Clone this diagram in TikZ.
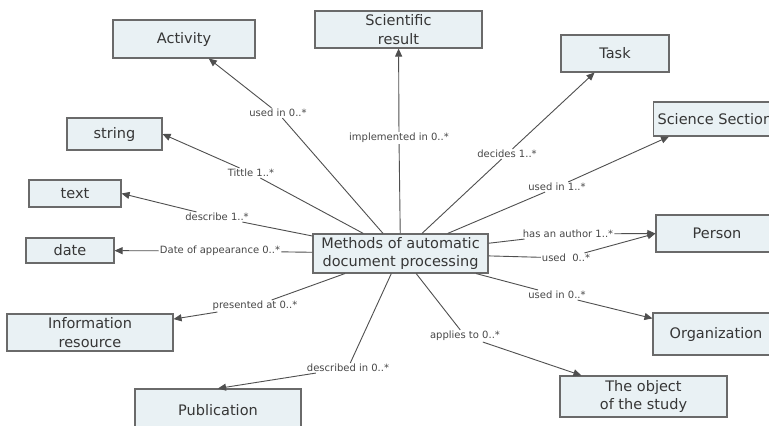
\documentclass[tikz,border=0pt]{standalone}
\usepackage{fontspec}
\setmainfont{DejaVu Sans}
\usetikzlibrary{arrows.meta}
\definecolor{boxfill}{HTML}{E9F1F4}
\definecolor{boxline}{HTML}{6A6A6A}
\definecolor{boxtext}{HTML}{363636}
\definecolor{reltext}{HTML}{474747}
\definecolor{linkcol}{HTML}{4F4F4F}
\begin{document}
\begin{tikzpicture}[x=1pt,y=-1pt,
  concept/.style={draw=boxline, fill=boxfill, line width=1.1pt, inner sep=0pt,
    align=center, text=boxtext, font=\fontsize{14.5}{18.5}\selectfont},
  rel/.style={inner sep=1pt, text=reltext, font=\fontsize{10}{12}\selectfont},
  link/.style={draw=linkcol, line width=0.9pt},
  arr/.style={link, -{Triangle[length=8pt,width=7pt]}}]
\fill[white] (0,0) rectangle (769,426);
\useasboundingbox (0,0) rectangle (769,426);
\clip (0,0) rectangle (769,426);

% concepts
\node[concept, minimum width=142pt, minimum height=38pt] (act) at (184,39) {Activity};
\node[concept, minimum width=167pt, minimum height=37pt] (sci) at (398.5,29.5) {Scientific\\result};
\node[concept, minimum width=108pt, minimum height=37pt] (task) at (615,53.5) {Task};
\node[concept, minimum height=34pt, inner xsep=4pt, anchor=west] (sec) at (653,119) {Science Section};
\node[concept, minimum width=95pt, minimum height=32pt] (str) at (114.5,134) {string};
\node[concept, minimum width=92pt, minimum height=27pt] (txt) at (75,193.5) {text};
\node[concept, minimum width=88pt, minimum height=25pt] (date) at (70,250.5) {date};
\node[concept, minimum width=166pt, minimum height=37pt] (info) at (90,332.5) {Information\\resource};
\node[concept, minimum width=166pt, minimum height=42pt] (pub) at (218,410) {Publication};
\node[concept, minimum width=175pt, minimum height=39pt] (core) at (400.5,253.5) {Methods of automatic\\document processing};
\node[concept, minimum width=122pt, minimum height=37pt] (person) at (717,233.5) {Person};
\node[concept, minimum width=126pt, minimum height=42pt] (org) at (716,334) {Organization};
\node[concept, minimum width=167pt, minimum height=41pt] (obj) at (643.5,396.5) {The object\\of the study};

% relation labels
\node[rel] (lAct)  at (278,113) {used in 0..*};
\node[rel] (lSci)  at (399,138) {implemented in 0..*};
\node[rel] (lTask) at (507,154) {decides 1..*};
\node[rel] (lSec)  at (557,187) {used in 1..*};
\node[rel] (lStr)  at (251,173) {Tittle 1..*};
\node[rel] (lTxt)  at (217,217) {describe 1..*};
\node[rel] (lDate) at (220,251) {Date of appearance 0..*};
\node[rel] (lInfo) at (255,306) {presented at 0..*};
\node[rel] (lPub)  at (348,368) {described in 0..*};
\node[rel] (lAuth) at (568,234) {has an author 1..*};
\node[rel] (lUsed) at (566,258) {used\ \ 0..*};
\node[rel] (lOrg)  at (557,295) {used in 0..*};
\node[rel] (lObj)  at (465,336) {applies to 0..*};

% connectors
\draw[link] (core) -- (lAct);  \draw[arr] (lAct) -- (act);
\draw[link] (core) -- (lSci);  \draw[arr] (lSci) -- (sci);
\draw[link] (core) -- (lTask); \draw[arr] (lTask) -- (task);
\draw[link] (core) -- (lSec);  \draw[arr] (lSec) -- ([xshift=16pt]sec.south west);
\draw[link] (core) -- (lStr);  \draw[arr] (lStr) -- (str.east);
\draw[link] (core) -- (lTxt);  \draw[arr] (lTxt) -- (txt.east);
\draw[link] (core) -- (lDate); \draw[arr] (lDate) -- (date);
\draw[link] (core) -- (lInfo); \draw[arr] (lInfo) -- (info);
\draw[link] (core) -- (lPub);  \draw[arr] (lPub) -- (pub.north);
\draw[link] (core) -- (lAuth); \draw[arr] (lAuth) -- (person.west);
\draw[link] (core) -- (lUsed); \draw[arr] (lUsed) -- (person.west);
\draw[link] (core) -- (lOrg);  \draw[arr] (lOrg) -- (org);
\draw[link] (core) -- (lObj);  \draw[arr] (lObj) -- (obj);
\end{tikzpicture}
\end{document}
